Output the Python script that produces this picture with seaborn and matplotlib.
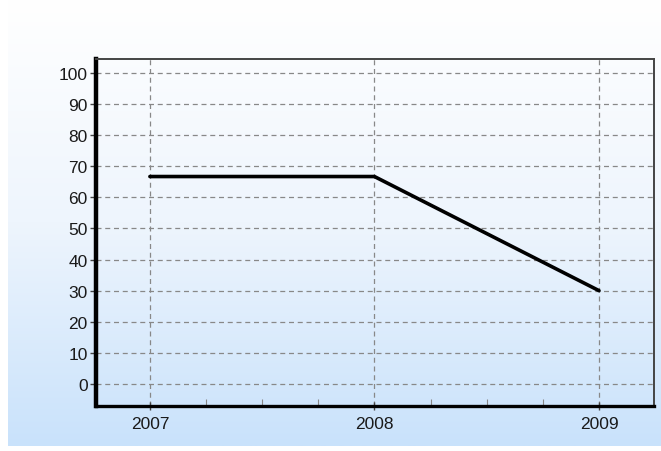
import matplotlib
matplotlib.use('Agg')
import matplotlib.pyplot as plt
import numpy as np
import pandas as pd
import seaborn as sns
from matplotlib.colors import LinearSegmentedColormap
from matplotlib.ticker import MultipleLocator

# Data
years = [2007, 2008, 2009]
values = [66.7, 66.7, 30.0]
year_labels = ['2007', '2008', '2009']
y_ticks = [0, 10, 20, 30, 40, 50, 60, 70, 80, 90, 100]

df = pd.DataFrame({'year': years, 'value': values})

sns.set_style('white')
plt.rcParams['font.family'] = ['Liberation Sans', 'DejaVu Sans']

W, H = 661, 452
fig = plt.figure(figsize=(W / 100, H / 100), dpi=100)
fig.patch.set_facecolor('white')

# gradient background panel
bg = fig.add_axes([8 / W, (H - 447) / H, 1 - 8 / W, 447 / H])
cmap = LinearSegmentedColormap.from_list('bg', ['#ffffff', '#eef5fd', '#c9e2fb'])
grad = np.linspace(0, 1, 256).reshape(-1, 1)
bg.imshow(grad, aspect='auto', cmap=cmap, extent=[0, 1, 0, 1], origin='upper')
bg.set_axis_off()
bg.set_zorder(0)

# main axes
left, right, top, bottom = 96, 654, 60, 407
ax = fig.add_axes([left / W, (H - bottom) / H, (right - left) / W, (bottom - top) / H])
ax.set_zorder(1)
ax.patch.set_alpha(0)

sns.lineplot(data=df, x='year', y='value', ax=ax, color='black', linewidth=2.6)

ax.set_xlim(2006.76, 2009.245)
ax.set_ylim(-7.1, 104.5)
ax.set_xticks(years)
ax.set_xticklabels(year_labels)
ax.set_yticks(y_ticks)
ax.xaxis.set_minor_locator(MultipleLocator(0.25))
ax.set_xlabel('')
ax.set_ylabel('')

ax.grid(True, which='major', color='#888888', linestyle=(0, (4, 3)), linewidth=0.9)

ax.tick_params(axis='y', which='major', left=True, direction='out', length=4, width=1,
               color='#444444', labelsize=12.5, pad=2, labelcolor='#1a1a1a')
ax.tick_params(axis='x', which='major', bottom=True, direction='inout', length=6, width=1,
               color='#444444', labelsize=12.5, pad=4, labelcolor='#1a1a1a')
ax.tick_params(axis='x', which='minor', bottom=True, direction='in', length=5, width=0.8,
               color='#888888')

ax.spines['left'].set_linewidth(3.2)
ax.spines['left'].set_color('black')
ax.spines['bottom'].set_linewidth(2.4)
ax.spines['bottom'].set_color('black')
ax.spines['top'].set_linewidth(1.4)
ax.spines['top'].set_color('#444444')
ax.spines['right'].set_linewidth(1.4)
ax.spines['right'].set_color('#444444')
for s in ax.spines.values():
    s.set_visible(True)

fig.savefig('out.png', dpi=100)
plt.close(fig)
